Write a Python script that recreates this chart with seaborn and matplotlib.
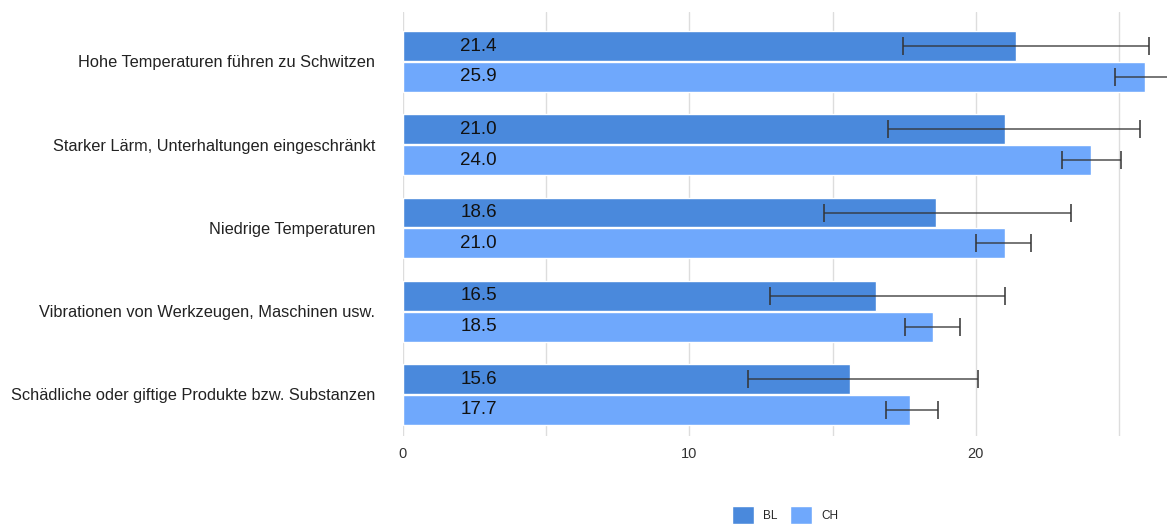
import pandas as pd
import matplotlib.pyplot as plt
import seaborn as sns

categories = [
    "Hohe Temperaturen führen zu Schwitzen",
    "Starker Lärm, Unterhaltungen eingeschränkt",
    "Niedrige Temperaturen",
    "Vibrationen von Werkzeugen, Maschinen usw.",
    "Schädliche oder giftige Produkte bzw. Substanzen",
]
bl_values = [21.4, 21.0, 18.6, 16.5, 15.6]
ch_values = [25.9, 24.0, 21.0, 18.5, 17.7]
# lower / upper extent of the error bars
bl_err_low = [3.95, 4.07, 3.91, 3.69, 3.56]
bl_err_high = [4.64, 4.72, 4.71, 4.50, 4.47]
ch_err_low = [1.05, 1.00, 1.00, 0.98, 0.84]
ch_err_high = [1.05, 1.06, 0.92, 0.94, 0.97]
groups = ["BL", "CH"]
colors = ["#4a89dc", "#6fa8fc"]

df = pd.DataFrame({
    "cat": categories * 2,
    "value": bl_values + ch_values,
    "low": bl_err_low + ch_err_low,
    "high": bl_err_high + ch_err_high,
    "group": ["BL"] * 5 + ["CH"] * 5,
})

sns.set_style("white")
plt.rcParams["font.family"] = ["Liberation Sans", "DejaVu Sans"]

fig = plt.figure(figsize=(11.67, 5.25), dpi=100)
ax = fig.add_axes([0.3453, 0.1695, 0.6547, 0.8085])

sns.barplot(data=df, x="value", y="cat", hue="group", hue_order=groups,
            palette=colors, orient="h", errorbar=None, width=0.74, gap=0.03,
            saturation=1, ax=ax, zorder=2)

# error bars and value labels at bar centres
for i, g in enumerate(groups):
    cont = ax.containers[i]
    sub = df[df["group"] == g]
    for bar, v, lo, hi in zip(cont, sub["value"], sub["low"], sub["high"]):
        yc = bar.get_y() + bar.get_height() / 2
        ax.errorbar(v, yc, xerr=[[lo], [hi]], fmt="none", ecolor="#333333",
                    elinewidth=1.1, capsize=6.5, capthick=1.3, alpha=0.85,
                    zorder=3, clip_on=False)
        ax.text(2.0, yc, f"{v:.1f}", va="center", ha="left", fontsize=13.5,
                color="#111111", zorder=4)

ax.set_xlim(0, 26.67)
ax.set_ylim(4.5, -0.6)
ax.set_xticks([0, 10, 20])
ax.set_xticks([5, 15, 25], minor=True)
ax.grid(axis="x", which="both", color="#dddddd", linewidth=1, zorder=0)
ax.set_axisbelow(True)
for s in ax.spines.values():
    s.set_visible(False)
ax.tick_params(axis="x", length=0, labelsize=10.5, labelcolor="#333333", pad=8)
ax.tick_params(axis="y", length=0, labelsize=11.8, labelcolor="#222222", pad=20)
ax.set_xlabel("")
ax.set_ylabel("")

ax.legend(loc="upper center", bbox_to_anchor=(0.5, -0.14), ncol=2, frameon=False,
          fontsize=8.5, handlelength=1.9, handleheight=1.9, handletextpad=0.8,
          columnspacing=1.0)

fig.savefig("out.png", dpi=100)
